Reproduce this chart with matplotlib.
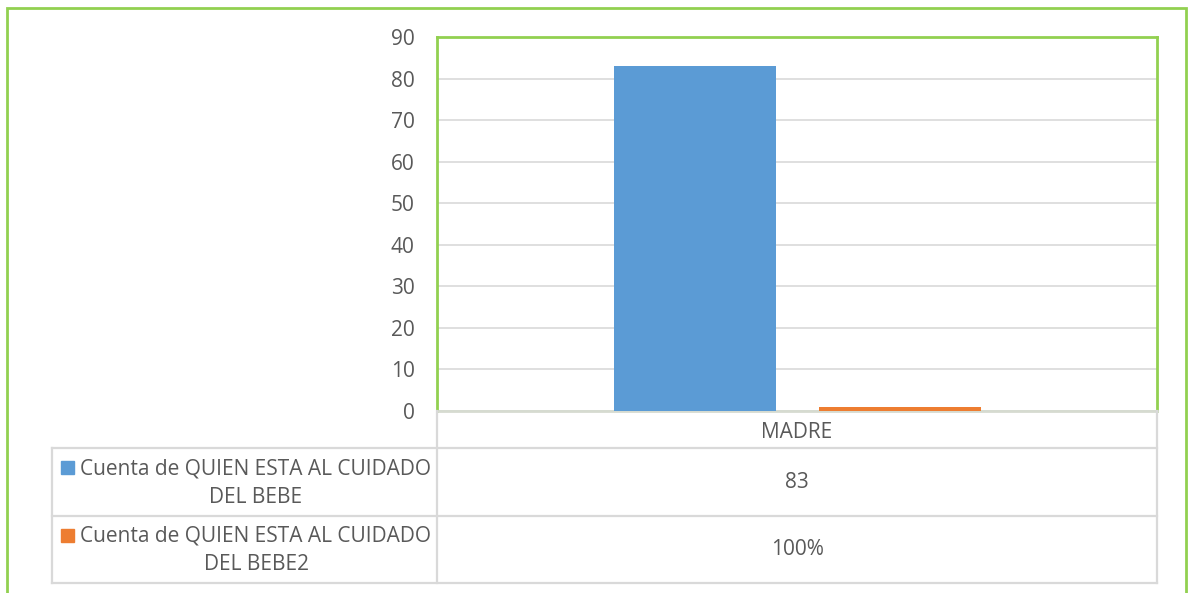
import matplotlib
matplotlib.use("Agg")
import matplotlib.pyplot as plt
from matplotlib.lines import Line2D
from matplotlib.patches import Rectangle

plt.rcParams['font.family'] = ['Open Sans', 'DejaVu Sans']

categories = ["MADRE"]
series_names = ["Cuenta de QUIEN ESTA AL CUIDADO\nDEL BEBE",
                "Cuenta de QUIEN ESTA AL CUIDADO\nDEL BEBE2"]
series1 = [83]
series2 = [1.0]
series_labels = [["83"], ["100%"]]
yticks = [0, 10, 20, 30, 40, 50, 60, 70, 80, 90]

BLUE = "#5b9bd5"
ORANGE = "#ed7d31"
GREEN = "#92d050"
GRID = "#d9d9d9"
TXT = "#595959"
FS = 15

W, H = 1189, 593
fig = plt.figure(figsize=(W / 100, H / 100), dpi=100)

def fx(px):
    return px / W

def fy(py):
    return 1 - py / H

# outer frame
fig.add_artist(Rectangle((fx(7), fy(600)), fx(1186 - 7), fy(8) - fy(600),
                         transform=fig.transFigure, fill=False,
                         edgecolor=GREEN, linewidth=2))

L, R, T, B = 437, 1157, 37, 411
ax = fig.add_axes([fx(L), fy(B), fx(R - L), fy(T) - fy(B)])
ax.set_xlim(-0.5, 0.5)
ax.set_ylim(0, 90)
ax.set_yticks(yticks)
ax.set_yticklabels([str(v) for v in yticks], fontsize=FS, color=TXT)
ax.tick_params(axis='y', length=0, pad=16)
ax.set_xticks([])
ax.grid(axis='y', color=GRID, linewidth=1.2)
ax.set_axisbelow(True)
for s in ['left', 'top', 'right']:
    ax.spines[s].set_color(GREEN)
    ax.spines[s].set_linewidth(2)
ax.spines['bottom'].set_color("#d6dbd0")
ax.spines['bottom'].set_linewidth(2)

x = [0]
bw = 0.225
ax.bar([xi - 0.142 for xi in x], series1, width=bw, color=BLUE, zorder=3)
ax.bar([xi + 0.143 for xi in x], series2, width=bw, color=ORANGE, zorder=3)

# data table
lc = dict(color=GRID, linewidth=1.6, transform=fig.transFigure)
rows_y = [411, 448, 516, 583]
TL = 52
fig.add_artist(Line2D([fx(L), fx(L)], [fy(411), fy(583)], **lc))
fig.add_artist(Line2D([fx(R), fx(R)], [fy(411), fy(583)], **lc))
fig.add_artist(Line2D([fx(TL), fx(TL)], [fy(448), fy(583)], **lc))
fig.add_artist(Line2D([fx(TL), fx(R)], [fy(448), fy(448)], **lc))
fig.add_artist(Line2D([fx(TL), fx(R)], [fy(516), fy(516)], **lc))
fig.add_artist(Line2D([fx(TL), fx(R)], [fy(583), fy(583)], **lc))

cx = (L + R) / 2
fig.text(fx(cx), fy(432), categories[0], ha='center', va='center',
         fontsize=FS, color=TXT)

colors = [BLUE, ORANGE]
for i, (name, labs) in enumerate(zip(series_names, series_labels)):
    top, bot = rows_y[i + 1], rows_y[i + 2]
    mid = (top + bot) / 2
    fig.text(fx(256), fy(mid + 1), name, ha='center', va='center',
             multialignment='center', fontsize=FS, color=TXT,
             linespacing=1.5)
    fig.add_artist(Rectangle((fx(61), fy(mid - 8)), fx(13), fy(mid - 21) - fy(mid - 8),
                             transform=fig.transFigure, color=colors[i]))
    fig.text(fx(cx), fy(mid), labs[0], ha='center', va='center',
             fontsize=FS, color=TXT)

fig.savefig("out.png", dpi=100, facecolor="white")
